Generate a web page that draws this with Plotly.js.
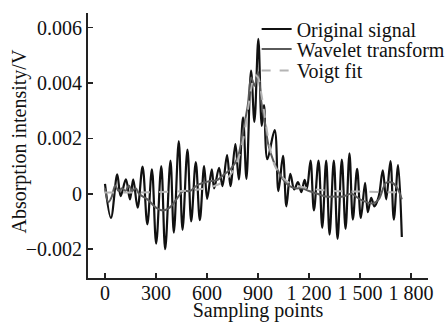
<!DOCTYPE html>
<html>
<head>
<meta charset="utf-8">
<script src="https://cdn.plot.ly/plotly-3.0.1.min.js"></script>
<style>html,body{margin:0;padding:0;background:#fff;}#chart{width:448px;height:322px;}</style>
</head>
<body>
<div id="chart"></div>
<script>
// Original signal (peaks and troughs)
var origX = [0,35,72,92,123,147,166,192,221,249,276,301,331,354,385,405,434,456,485,507,534,558,583,601,628,642,671,691,718,738,767,787,812,832,859,879,902,922,935,955,998,1020,1047,1067,1090,1113,1135,1155,1174,1188,1209,1229,1256,1278,1301,1321,1346,1368,1393,1415,1438,1458,1483,1505,1530,1546,1566,1585,1610,1634,1654,1679,1699,1724,1746];
var origY = [0.00036,-0.00087,0.0007,-0.00008,0.00052,-0.0002,0.00052,-0.0005,0.00098,-0.0011,0.00088,-0.0018,0.001,-0.002,0.0012,-0.0014,0.0019,-0.0013,0.0016,-0.001,0.00115,-0.00095,0.001,-0.00018,0.00088,0.0002,0.00094,0.00028,0.0014,0.00028,0.0018,0.00052,0.00276,0.00054,0.00445,0.0026,0.0056,0.00245,0.0032,0.00125,0.0023,0.0001,0.00137,-0.00045,0.00072,0.00016,0.00042,0.00006,0.0005,0.0002,0.0012,-0.0006,0.0012,-0.00123,0.0012,-0.00147,0.0012,-0.00163,0.00124,-0.00127,0.00146,-0.00093,0.0009,-0.00087,0.0004,-0.00066,-0.00015,-0.00045,-0.0001,0.00085,-0.0002,0.00118,-0.00093,0.00104,-0.00156];

// Wavelet transform
var waveX = [0,20,40,60,80,100,120,140,160,180,200,250,300,340,380,420,460,500,540,580,620,660,700,740,780,810,840,860,880,900,920,940,960,990,1020,1050,1080,1120,1160,1200,1250,1300,1350,1400,1450,1500,1540,1575,1610,1654,1690,1720,1746];
var waveY = [0.0002,-0.0003,-0.0001,0.0003,0.0001,0.0002,0.0001,0.0003,0.0001,0.0002,0.0,-0.0002,-0.0005,-0.0006,-0.0005,-0.0002,0.0001,0.0001,0.0003,0.0004,0.00046,0.0005,0.0007,0.0009,0.0013,0.0022,0.0032,0.0042,0.0039,0.0044,0.0033,0.0026,0.0018,0.0012,0.0008,0.0005,0.0003,0.0002,0.0002,0.0001,0.0,-0.0001,-0.0001,-0.0001,0.0,-0.0002,-0.0003,-0.00035,-0.0002,0.0004,0.0004,0.0002,-0.0002];

// Voigt fit
var voigtX = [0,200,400,500,600,650,700,750,780,800,820,840,860,880,900,920,940,960,980,1000,1030,1060,1100,1200,1300,1500,1746];
var voigtY = [0.00005,0.00005,0.00008,0.00012,0.0002,0.0003,0.00045,0.0008,0.0012,0.0016,0.0022,0.003,0.0038,0.0043,0.0042,0.0036,0.0028,0.002,0.0014,0.001,0.0007,0.0005,0.00035,0.0002,0.00012,0.00008,0.00005];

var seriesNames = ["Original signal","Wavelet transform","Voigt fit"];
var xTickVals = [0,300,600,900,1200,1500,1800];
var xTickText = ["0","300","600","900","1 200","1 500","1 800"];
var yTickVals = [-0.002,0,0.002,0.004,0.006];
var yTickText = ["\u22120.002","0","0.002","0.004","0.006"];
var yTitle = "Absorption intensity/V";

var FONT = "Liberation Serif";

var traces = [
  {x: origX, y: origY, name: seriesNames[0], mode: "lines", legend: "legend",
   line: {color: "#111111", width: 2.2, shape: "spline", smoothing: 1}},
  {x: waveX, y: waveY, name: seriesNames[1], mode: "lines", legend: "legend2",
   line: {color: "#5a5a5a", width: 2, shape: "spline", smoothing: 1}},
  {x: voigtX, y: voigtY, name: seriesNames[2], mode: "lines", legend: "legend3",
   line: {color: "#b4b4b4", width: 2, dash: "dash", shape: "spline", smoothing: 1}}
];

var legBase = {x: 0.496, xanchor: "left", yanchor: "middle", bgcolor: "rgba(0,0,0,0)",
  borderwidth: 0, font: {family: FONT, size: 20, color: "#111"}};

var layout = {
  width: 448, height: 322,
  margin: {l: 88, r: 20, t: 13, b: 44, autoexpand: false},
  paper_bgcolor: "#fff", plot_bgcolor: "#fff",
  font: {family: FONT, size: 20, color: "#111"},
  showlegend: true,
  legend: Object.assign({}, legBase, {y: 0.9396}),
  legend2: Object.assign({}, legBase, {y: 0.864}),
  legend3: Object.assign({}, legBase, {y: 0.783}),
  xaxis: {
    range: [-100, 1900], tickmode: "array", tickvals: xTickVals, ticktext: xTickText,
    ticks: "inside", ticklen: 5, tickwidth: 1.5, tickcolor: "#222", tickangle: 0,
    showline: true, linecolor: "#222", linewidth: 2, mirror: false,
    showgrid: false, zeroline: false, ticklabelstandoff: -4,
    tickfont: {family: FONT, size: 20, color: "#111"},
    title: {text: "Sampling points", font: {family: FONT, size: 20, color: "#111"}, standoff: 17},
    automargin: false
  },
  yaxis: {
    range: [-0.00304, 0.00653], tickmode: "array", tickvals: yTickVals, ticktext: yTickText,
    ticks: "inside", ticklen: 5, tickwidth: 1.5, tickcolor: "#222",
    showline: true, linecolor: "#222", linewidth: 2, mirror: false,
    showgrid: false, zeroline: false,
    tickfont: {family: FONT, size: 20, color: "#111"},
    automargin: false
  },
  annotations: [
    {text: yTitle, xref: "paper", yref: "paper", x: -0.2, y: 0.515, textangle: -90,
     showarrow: false, xanchor: "center", yanchor: "middle",
     font: {family: FONT, size: 20, color: "#111"}}
  ]
};

Plotly.newPlot("chart", traces, layout, {staticPlot: true, displayModeBar: false});
</script>
</body>
</html>
